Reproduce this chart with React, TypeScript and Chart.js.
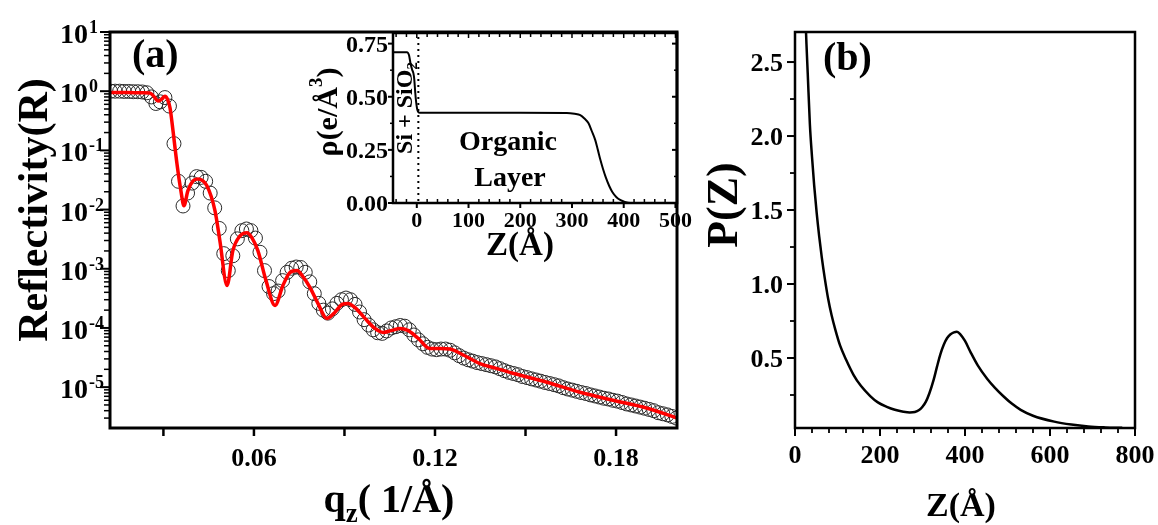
import React, { useEffect, useRef } from "react";
import { Chart, registerables } from "chart.js";
Chart.register(...registerables);

const FONT = '"Liberation Serif", "Times New Roman", serif';

// ---------- Panel (a): measured reflectivity (circles) ----------
const qData = [
  0.0125, 0.014, 0.0155, 0.017, 0.0185, 0.02, 0.0215, 0.023, 0.0245, 0.026,
  0.0275, 0.029, 0.0305, 0.032, 0.0335, 0.035, 0.0365, 0.038, 0.0395, 0.041,
  0.0425, 0.044, 0.0455, 0.047, 0.0485, 0.05, 0.0515, 0.053, 0.0545, 0.056,
  0.0575, 0.059, 0.0605, 0.062, 0.0635, 0.065, 0.0665, 0.068, 0.0695, 0.071,
  0.0725, 0.074, 0.0755, 0.077, 0.0785, 0.08, 0.0815, 0.083, 0.0845, 0.086,
  0.0875, 0.089, 0.0905, 0.092, 0.0935, 0.095, 0.0965, 0.098, 0.0995, 0.101,
  0.1025, 0.104, 0.1055, 0.107, 0.1085, 0.11, 0.1115, 0.113, 0.1145, 0.116,
  0.1175, 0.119, 0.1205, 0.122, 0.1235, 0.125, 0.1265, 0.128, 0.1295, 0.131,
  0.1325, 0.134, 0.1355, 0.137, 0.1385, 0.14, 0.1415, 0.143, 0.1445, 0.146,
  0.1475, 0.149, 0.1505, 0.152, 0.1535, 0.155, 0.1565, 0.158, 0.1595, 0.161,
  0.1625, 0.164, 0.1655, 0.167, 0.1685, 0.17, 0.1715, 0.173, 0.1745, 0.176,
  0.1775, 0.179, 0.1805, 0.182, 0.1835, 0.185, 0.1865, 0.188, 0.1895, 0.191,
  0.1925, 0.194, 0.1955, 0.197, 0.1985, 0.2,
];
const rData = [
  1.0, 1.0, 1.0, 0.99, 0.99, 0.98, 0.98, 0.97, 0.94, 0.8,
  0.62, 0.66, 0.78, 0.56, 0.13, 0.03, 0.0115, 0.019, 0.028, 0.036,
  0.035, 0.03, 0.019, 0.0107, 0.0048, 0.0018, 9.3e-4, 1.66e-3, 3.2e-3, 4.4e-3,
  4.7e-3, 4.4e-3, 3.3e-3, 1.9e-3, 9.3e-4, 5.0e-4, 3.8e-4, 4.2e-4, 6.3e-4, 8.7e-4,
  1.02e-3, 1.07e-3, 1.05e-3, 8.7e-4, 6.0e-4, 3.8e-4, 2.6e-4, 2.0e-4, 1.78e-4, 2.1e-4,
  2.6e-4, 3.0e-4, 3.2e-4, 3.0e-4, 2.5e-4, 1.86e-4, 1.38e-4, 1.12e-4, 9.3e-5, 8.3e-5,
  8.1e-5, 8.9e-5, 1.0e-4, 1.05e-4, 1.1e-4, 1.07e-4, 9.3e-5, 7.6e-5, 6.3e-5, 5.4e-5,
  4.7e-5, 4.4e-5, 4.3e-5, 4.4e-5, 4.4e-5, 4.2e-5, 3.8e-5, 3.4e-5, 3.1e-5, 2.9e-5,
  2.75e-5, 2.6e-5, 2.5e-5, 2.4e-5, 2.3e-5, 2.2e-5, 2.05e-5, 1.9e-5, 1.78e-5, 1.7e-5,
  1.62e-5, 1.51e-5, 1.45e-5, 1.38e-5, 1.32e-5, 1.26e-5, 1.2e-5, 1.15e-5, 1.1e-5, 1.05e-5,
  9.8e-6, 9.3e-6, 8.9e-6, 8.5e-6, 8.1e-6, 7.8e-6, 7.4e-6, 7.1e-6, 6.8e-6, 6.5e-6,
  6.3e-6, 6.0e-6, 5.8e-6, 5.5e-6, 5.2e-6, 5.0e-6, 4.8e-6, 4.6e-6, 4.4e-6, 4.2e-6,
  4.0e-6, 3.7e-6, 3.55e-6, 3.4e-6, 3.2e-6, 3.0e-6,
];

// ---------- Panel (a): fit (red line) ----------
const qFit = [
  0.0126, 0.018, 0.023, 0.0255, 0.027, 0.0282, 0.0295, 0.0305, 0.0314, 0.0322,
  0.0332, 0.0345, 0.0358, 0.0368, 0.0381, 0.0398, 0.0414, 0.0444, 0.0471, 0.0487,
  0.0511, 0.053, 0.0554, 0.0577, 0.0593, 0.0613, 0.064, 0.067, 0.0696, 0.0719,
  0.0743, 0.0762, 0.0786, 0.0812, 0.0842, 0.0868, 0.0892, 0.0912, 0.0935, 0.0968,
  0.1001, 0.1028, 0.1057, 0.1084, 0.111, 0.1144, 0.1183, 0.1217, 0.125, 0.1289,
  0.1349, 0.14, 0.1458, 0.1571, 0.1681, 0.179, 0.1903, 0.2002,
];
const rFit = [
  0.95, 0.95, 0.94, 0.93, 0.8, 0.68, 0.74, 0.82, 0.72, 0.52,
  0.21, 0.059, 0.0207, 0.0116, 0.0207, 0.0305, 0.033, 0.0252, 0.0095, 0.003,
  5.2e-4, 2.0e-3, 3.6e-3, 4.07e-3, 3.35e-3, 2.02e-3, 6.3e-4, 2.4e-4, 5.2e-4, 8.6e-4,
  9.3e-4, 7.4e-4, 4.8e-4, 2.6e-4, 1.45e-4, 1.83e-4, 2.5e-4, 2.6e-4, 2.2e-4, 1.45e-4,
  9.8e-5, 8.4e-5, 9.1e-5, 9.8e-5, 9.1e-5, 6.7e-5, 4.5e-5, 4.5e-5, 4.4e-5, 3.6e-5,
  2.5e-5, 2.1e-5, 1.72e-5, 1.21e-5, 8.2e-6, 6.0e-6, 4.4e-6, 3.0e-6,
];

const reflTickExponents = [1, 0, -1, -2, -3, -4, -5];
const qTickValues = [0.03, 0.06, 0.09, 0.12, 0.15, 0.18];
const qTickLabels = ["", "0.06", "", "0.12", "", "0.18"];

// ---------- Inset: electron density profile ----------
const zProfile = [
  -46, -19, -15, -12, -9, -6.5, -5, -3, -1.5, 0.5, 3, 6, 100, 200, 290, 305,
  316, 324, 332, 338, 345, 350, 355, 360, 365, 372, 378, 386, 394, 402, 413, 503,
];
const rhoProfile = [
  0.71, 0.71, 0.695, 0.655, 0.627, 0.61, 0.585, 0.52, 0.48, 0.445, 0.428, 0.425, 0.425, 0.425, 0.424, 0.42,
  0.414, 0.398, 0.375, 0.34, 0.296, 0.25, 0.202, 0.16, 0.123, 0.08, 0.052, 0.027, 0.013, 0.005, 0, 0,
];
const interfaceZ = [3, 3];
const interfaceRho = [0.01, 0.79];
const rhoTicks = [0, 0.25, 0.5, 0.75];
const rhoTickLabels = ["0.00", "0.25", "0.50", "0.75"];
const rhoMinorTicks = [0.125, 0.375, 0.625];
const zInsetTicks = [0, 100, 200, 300, 400, 500];

// ---------- Panel (b): P(Z) ----------
const zDist = [
  22, 24, 27, 30, 35, 40, 45, 51, 57, 63, 70, 78, 86, 95, 106, 120, 138, 155, 177, 195,
  216, 235, 255, 270, 282, 292, 300, 308, 316, 326, 334, 342, 350, 358, 366, 374, 381, 389,
  400, 413, 430, 452, 470, 491, 510, 531, 560, 610, 650, 690, 730, 770,
];
const pDist = [
  3.0, 2.85, 2.62, 2.42, 2.08, 1.86, 1.67, 1.48, 1.32, 1.18, 1.04, 0.9, 0.79, 0.69, 0.585, 0.49, 0.385, 0.312, 0.243, 0.2,
  0.17, 0.15, 0.137, 0.132, 0.135, 0.148, 0.17, 0.205, 0.26, 0.35, 0.44, 0.525, 0.59, 0.635, 0.66, 0.673, 0.677, 0.66,
  0.615, 0.54, 0.45, 0.36, 0.3, 0.24, 0.192, 0.15, 0.11, 0.07, 0.05, 0.037, 0.031, 0.028,
];
const pTicks = [0.5, 1.0, 1.5, 2.0, 2.5];
const pTickLabels = ["0.5", "1.0", "1.5", "2.0", "2.5"];
const pMinorTicks = [0.25, 0.75, 1.25, 1.75, 2.25];
const zDistTicks = [0, 200, 400, 600, 800];
const zDistMinorStep = 40;

// ---------- helpers ----------
type Seg = { t: string; size: number; dy?: number };

function drawRich(
  ctx: CanvasRenderingContext2D,
  segs: Seg[],
  x: number,
  y: number,
  align: "left" | "center" | "right",
  rot = 0
) {
  ctx.save();
  ctx.translate(x, y);
  if (rot) ctx.rotate(rot);
  ctx.textBaseline = "alphabetic";
  ctx.textAlign = "left";
  ctx.fillStyle = "#000";
  let total = 0;
  const widths = segs.map((s) => {
    ctx.font = `bold ${s.size}px ${FONT}`;
    const w = ctx.measureText(s.t).width;
    total += w;
    return w;
  });
  let cx = align === "left" ? 0 : align === "center" ? -total / 2 : -total;
  segs.forEach((s, i) => {
    ctx.font = `bold ${s.size}px ${FONT}`;
    ctx.fillText(s.t, cx, s.dy || 0);
    cx += widths[i];
  });
  ctx.restore();
}

function seg(ctx: CanvasRenderingContext2D, x1: number, y1: number, x2: number, y2: number) {
  ctx.beginPath();
  ctx.moveTo(x1, y1);
  ctx.lineTo(x2, y2);
  ctx.stroke();
}

const pts = (xs: number[], ys: number[]) => xs.map((x, i) => ({ x, y: ys[i] }));

// ---------- plugins ----------
const panelAPlugin = {
  id: "panelA",
  afterDraw(chart: any) {
    const { ctx, chartArea: a, scales } = chart;
    const x = scales.x;
    const y = scales.y;
    ctx.save();
    ctx.strokeStyle = "#000";
    ctx.lineWidth = 3;
    ctx.strokeRect(a.left, a.top, a.right - a.left, a.bottom - a.top);
    ctx.lineWidth = 2;
    reflTickExponents.forEach((e) => {
      const py = y.getPixelForValue(Math.pow(10, e));
      seg(ctx, a.left - 10, py, a.left, py);
      drawRich(ctx, [{ t: "10", size: 28 }], a.left - 22, py + 11, "right");
      drawRich(ctx, [{ t: String(e), size: 18 }], a.left - 21, py + 1, "left");
    });
    ctx.lineWidth = 1.5;
    for (let e = -6; e <= 0; e++) {
      for (let m = 2; m <= 9; m++) {
        const v = m * Math.pow(10, e);
        if (v < y.min || v > y.max) continue;
        const py = y.getPixelForValue(v);
        seg(ctx, a.left - 6, py, a.left, py);
      }
    }
    ctx.lineWidth = 2.5;
    qTickValues.forEach((v, i) => {
      const px = x.getPixelForValue(v);
      seg(ctx, px, a.bottom, px, a.bottom + 8);
      if (qTickLabels[i]) drawRich(ctx, [{ t: qTickLabels[i], size: 26 }], px, a.bottom + 38, "center");
    });
    drawRich(ctx, [{ t: "(a)", size: 40 }], a.left + 22, a.top + 35, "left");
    drawRich(ctx, [{ t: "Reflectivity(R)", size: 42 }], 47, 210, "center", -Math.PI / 2);
    drawRich(
      ctx,
      [
        { t: "q", size: 40 },
        { t: "z", size: 27, dy: 10 },
        { t: "( 1/Å)", size: 40 },
      ],
      389,
      512,
      "center"
    );
    ctx.restore();
  },
};

const insetPlugin = {
  id: "inset",
  afterDraw(chart: any) {
    const { ctx, chartArea: a, scales } = chart;
    const x = scales.x;
    const y = scales.y;
    ctx.save();
    ctx.strokeStyle = "#000";
    ctx.lineWidth = 2.5;
    ctx.strokeRect(a.left, a.top, a.right - a.left, a.bottom - a.top);
    ctx.lineWidth = 2;
    rhoTicks.forEach((v, i) => {
      const py = y.getPixelForValue(v);
      seg(ctx, a.left - 5, py, a.left, py);
      seg(ctx, a.right, py, a.right - 5, py);
      drawRich(ctx, [{ t: rhoTickLabels[i], size: 24 }], a.left - 5, py + 8, "right");
    });
    ctx.lineWidth = 1.5;
    rhoMinorTicks.forEach((v) => {
      const py = y.getPixelForValue(v);
      seg(ctx, a.left - 3, py, a.left, py);
      seg(ctx, a.right, py, a.right - 3, py);
    });
    ctx.lineWidth = 2;
    zInsetTicks.forEach((v) => {
      const px = x.getPixelForValue(v);
      seg(ctx, px, a.bottom, px, a.bottom + 5);
      drawRich(ctx, [{ t: String(v), size: 22 }], px, a.bottom + 24, "center");
    });
    ctx.lineWidth = 1.5;
    for (let v = -40; v <= 500; v += 20) {
      if (v % 100 === 0) continue;
      const px = x.getPixelForValue(v);
      if (px < a.left + 2 || px > a.right - 2) continue;
      seg(ctx, px, a.bottom, px, a.bottom - 4);
      seg(ctx, px, a.top, px, a.top + 4);
    }
    zInsetTicks.forEach((v) => {
      const px = x.getPixelForValue(v);
      seg(ctx, px, a.top, px, a.top + 5);
    });
    drawRich(ctx, [{ t: "Z(Å)", size: 33 }], 520, 255, "center");
    drawRich(
      ctx,
      [
        { t: "ρ(e/Å", size: 30 },
        { t: "3", size: 19, dy: -15 },
        { t: ")", size: 30 },
      ],
      337,
      112,
      "center",
      -Math.PI / 2
    );
    drawRich(ctx, [{ t: "Organic", size: 28 }], 508, 150, "center");
    drawRich(ctx, [{ t: "Layer", size: 28 }], 510, 186, "center");
    drawRich(
      ctx,
      [
        { t: "Si + SiO", size: 24 },
        { t: "2", size: 15, dy: 5 },
      ],
      412,
      108,
      "center",
      -Math.PI / 2
    );
    ctx.restore();
  },
};

const panelBPlugin = {
  id: "panelB",
  afterDraw(chart: any) {
    const { ctx, chartArea: a, scales } = chart;
    const x = scales.x;
    const y = scales.y;
    ctx.save();
    ctx.strokeStyle = "#000";
    ctx.lineWidth = 2.5;
    ctx.strokeRect(a.left, a.top, a.right - a.left, a.bottom - a.top);
    ctx.lineWidth = 2;
    pTicks.forEach((v, i) => {
      const py = y.getPixelForValue(v);
      seg(ctx, a.left - 8, py, a.left, py);
      drawRich(ctx, [{ t: pTickLabels[i], size: 26 }], a.left - 12, py + 9, "right");
    });
    ctx.lineWidth = 1.8;
    pMinorTicks.forEach((v) => {
      const py = y.getPixelForValue(v);
      seg(ctx, a.left - 5, py, a.left, py);
    });
    ctx.lineWidth = 2;
    zDistTicks.forEach((v) => {
      const px = x.getPixelForValue(v);
      seg(ctx, px, a.bottom, px, a.bottom + 8);
      drawRich(ctx, [{ t: String(v), size: 26 }], px, a.bottom + 35, "center");
    });
    ctx.lineWidth = 1.8;
    for (let v = zDistMinorStep; v < 800; v += zDistMinorStep) {
      if (v % 200 === 0) continue;
      const px = x.getPixelForValue(v);
      seg(ctx, px, a.bottom, px, a.bottom + 5);
    }
    drawRich(ctx, [{ t: "(b)", size: 40 }], a.left + 28, a.top + 38, "left");
    drawRich(ctx, [{ t: "P(Z)", size: 44 }], a.left - 58, 205, "center", -Math.PI / 2);
    drawRich(ctx, [{ t: "Z(Å)", size: 34 }], (a.left + a.right) / 2 - 4, 516, "center");
    ctx.restore();
  },
};

const baseOptions = (padding: any, xs: any, ys: any) => ({
  responsive: false,
  maintainAspectRatio: false,
  animation: false as const,
  events: [] as any[],
  layout: { padding },
  scales: { x: { ...xs, display: false }, y: { ...ys, display: false } },
  plugins: { legend: { display: false }, tooltip: { enabled: false }, title: { display: false } },
});

export default function App() {
  const refA = useRef<HTMLCanvasElement>(null);
  const refI = useRef<HTMLCanvasElement>(null);
  const refB = useRef<HTMLCanvasElement>(null);

  useEffect(() => {
    const charts: Chart[] = [];
    charts.push(
      new Chart(refA.current as HTMLCanvasElement, {
        type: "line",
        data: {
          datasets: [
            {
              label: "fit",
              data: pts(qFit, rFit),
              borderColor: "#ff0000",
              borderWidth: 3.5,
              pointRadius: 0,
              cubicInterpolationMode: "monotone",
              order: 0,
            },
            {
              label: "data",
              data: pts(qData, rData),
              showLine: false,
              pointRadius: 7,
              pointBorderWidth: 1,
              pointBorderColor: "#2a2a2a",
              pointBackgroundColor: "rgba(255,255,255,0)",
              order: 1,
            },
          ],
        },
        options: baseOptions(
          { left: 110, top: 32, right: 23, bottom: 97 },
          { type: "linear", min: 0.0123, max: 0.2002 },
          { type: "logarithmic", min: 2.04e-6, max: 10 }
        ) as any,
        plugins: [panelAPlugin],
      })
    );
    charts.push(
      new Chart(refI.current as HTMLCanvasElement, {
        type: "line",
        data: {
          datasets: [
            {
              label: "profile",
              data: pts(zProfile, rhoProfile),
              borderColor: "#000",
              borderWidth: 2,
              pointRadius: 0,
              cubicInterpolationMode: "monotone",
            },
            {
              label: "interface",
              data: pts(interfaceZ, interfaceRho),
              borderColor: "#000",
              borderWidth: 2,
              borderDash: [2, 4],
              pointRadius: 0,
            },
          ],
        },
        options: baseOptions(
          { left: 393, top: 33, right: 23, bottom: 322 },
          { type: "linear", min: -46, max: 503 },
          { type: "linear", min: 0, max: 0.8 }
        ) as any,
        plugins: [insetPlugin],
      })
    );
    charts.push(
      new Chart(refB.current as HTMLCanvasElement, {
        type: "line",
        data: {
          datasets: [
            {
              label: "P(Z)",
              data: pts(zDist, pDist),
              borderColor: "#000",
              borderWidth: 2.5,
              pointRadius: 0,
              cubicInterpolationMode: "monotone",
            },
          ],
        },
        options: baseOptions(
          { left: 115, top: 32, right: 23, bottom: 97 },
          { type: "linear", min: 0, max: 800 },
          { type: "linear", min: 0.027, max: 2.703 }
        ) as any,
        plugins: [panelBPlugin],
      })
    );
    return () => charts.forEach((c) => c.destroy());
  }, []);

  return (
    <div style={{ position: "absolute", left: 0, top: 0, width: 1158, height: 525, background: "#fff" }}>
      <canvas ref={refA} width={700} height={525} style={{ position: "absolute", left: 0, top: 0 }} />
      <canvas ref={refI} width={700} height={525} style={{ position: "absolute", left: 0, top: 0 }} />
      <canvas ref={refB} width={478} height={525} style={{ position: "absolute", left: 680, top: 0 }} />
    </div>
  );
}
